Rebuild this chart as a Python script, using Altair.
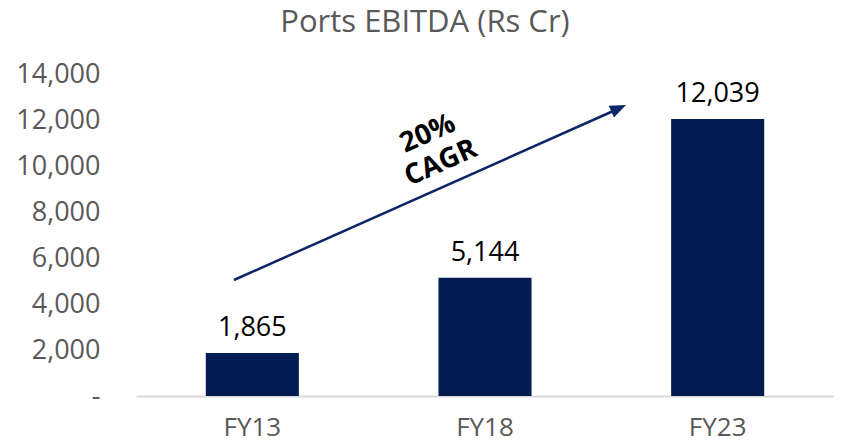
import altair as alt
import pandas as pd

categories = ["FY13", "FY18", "FY23"]
values = [1865, 5144, 12039]
y_ticks = [0, 2000, 4000, 6000, 8000, 10000, 12000, 14000]
title_text = "Ports EBITDA (Rs Cr)"
cagr_text = ["20%", "CAGR"]

df = pd.DataFrame({"year": categories, "ebitda": values})

FONT = "Open Sans"
GRAY = "#595959"
NAVY = "#021B50"

W, H = 698, 322

base = alt.Chart(df)

bars = base.mark_bar(color=NAVY).encode(
    x=alt.X("year:N", sort=categories, title=None,
            scale=alt.Scale(paddingInner=0.6, paddingOuter=0.3),
            axis=alt.Axis(labelAngle=0, labelFontSize=26, labelColor=GRAY, labelFont=FONT,
                          labelBaseline="alphabetic", labelPadding=39,
                          ticks=False, domainColor="#D9D9D9", domainWidth=2)),
    y=alt.Y("ebitda:Q", title=None,
            scale=alt.Scale(domain=[0, 14000], nice=False),
            axis=alt.Axis(values=y_ticks, grid=False, domain=False, ticks=False,
                          labelFontSize=27, labelColor=GRAY, labelFont=FONT, labelPadding=36,
                          labelExpr="datum.value == 0 ? '-' : format(datum.value, ',')")),
)

labels = base.mark_text(font=FONT, fontSize=27, color="#000000", baseline="alphabetic", dy=-17).encode(
    x=alt.X("year:N", sort=categories),
    y="ebitda:Q",
    text=alt.Text("ebitda:Q", format=","),
)

one = pd.DataFrame({"a": [0]})

arrow_line = alt.Chart(one).mark_rule(color="#0B2566", strokeWidth=2.5).encode(
    x=alt.value(98), x2=alt.value(484), y=alt.value(206), y2=alt.value(34)
)
arrow_head = alt.Chart(one).mark_point(
    shape="M0,-1L0.8,1L-0.8,1Z", filled=True, color="#0B2566", opacity=1, size=256, angle=66
).encode(x=alt.value(482.7), y=alt.value(34.3))

cagr = alt.Chart(one).mark_text(
    text=cagr_text, font=FONT, fontSize=28, fontWeight="bold", color="#000000",
    angle=336, align="center", baseline="middle", lineHeight=32
).encode(x=alt.value(292), y=alt.value(60))

title = alt.Chart(one).mark_text(
    text=title_text, font=FONT, fontSize=31, color=GRAY, align="center", baseline="alphabetic"
).encode(x=alt.value(289), y=alt.value(-42))

chart = alt.layer(bars, labels, arrow_line, arrow_head, cagr, title).properties(
    width=W, height=H,
    autosize=alt.AutoSizeParams(type="none"),
    padding={"left": 128, "top": 66, "right": 0, "bottom": 41},
).configure_view(stroke=None)

chart.save("out.html", embed_options={"renderer": "svg", "actions": False})
